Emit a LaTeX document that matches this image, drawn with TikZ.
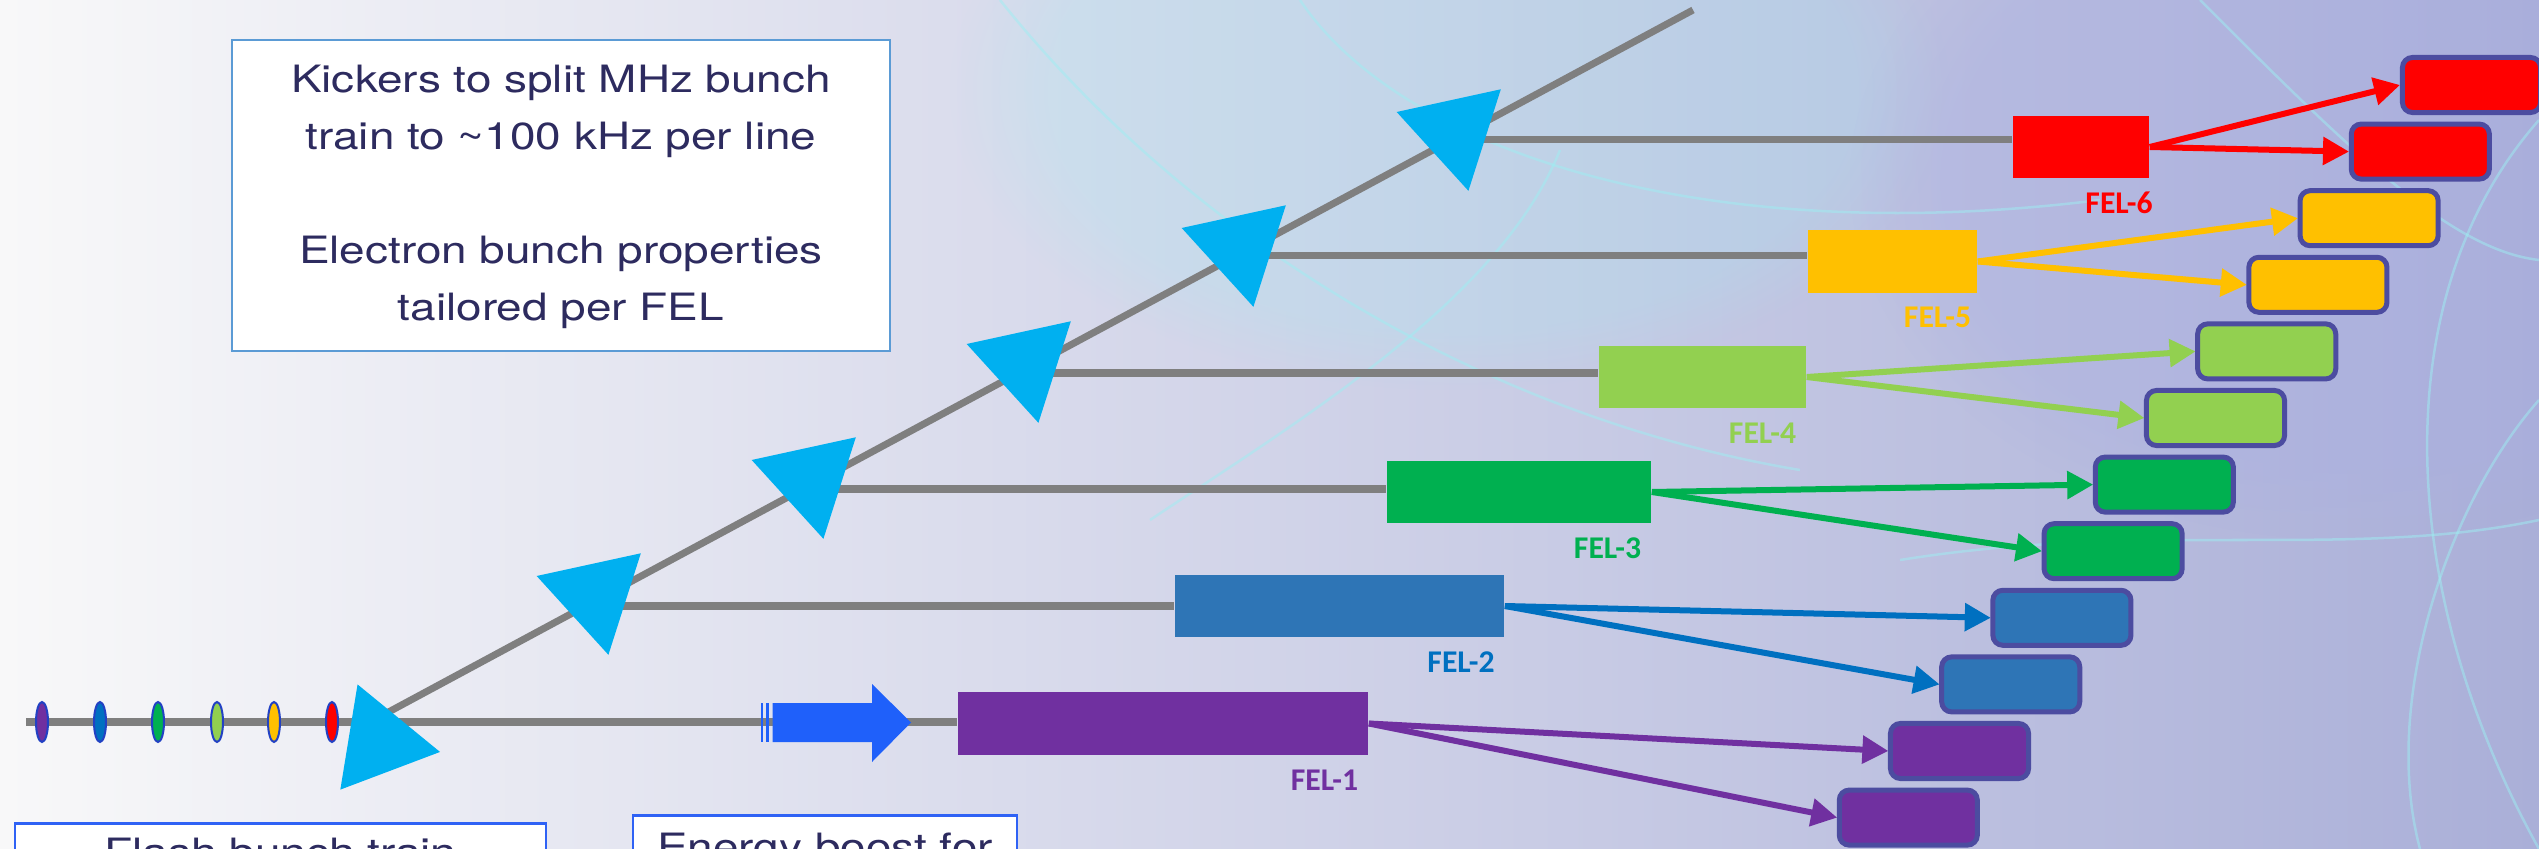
\documentclass[tikz,border=0pt]{standalone}
\usepackage{fontspec}
\usepackage{graphicx}
\setmainfont{TeX Gyre Heros}
\newfontfamily\felfont{Carlito}
\usetikzlibrary{shapes.geometric, arrows.meta, fadings, positioning}

\definecolor{felpurple}{HTML}{7030A0}
\definecolor{felblue}{HTML}{2E75B6}
\definecolor{feldblue}{HTML}{0070C0}
\definecolor{felgreen}{HTML}{00B050}
\definecolor{fellime}{HTML}{92D050}
\definecolor{felyellow}{HTML}{FFC000}
\definecolor{felred}{HTML}{FF0000}
\definecolor{beamgray}{HTML}{7F7F7F}
\definecolor{kickblue}{HTML}{00B0F0}
\definecolor{bunchedge}{HTML}{2241C4}
\definecolor{stationedge}{HTML}{4C4CA0}
\definecolor{boostblue}{HTML}{1F60FA}
\definecolor{textnavy}{HTML}{2D2B5F}
\definecolor{noteedge}{HTML}{5B9BD5}
\definecolor{noteedgeb}{HTML}{2F62F5}
\definecolor{bgleft}{HTML}{F8F8F9}
\definecolor{bgmid}{HTML}{DADADE}
\definecolor{bgright}{HTML}{AAAFD8}
\definecolor{meshcyan}{HTML}{9EEEF2}
\definecolor{bglav}{HTML}{A9AEE4}

\begin{document}
\begin{tikzpicture}[x=0.01cm, y=-0.01cm,
  beamline/.style = {draw=beamgray, line width=0.07cm},
  kicker/.style = {regular polygon, regular polygon sides=3, fill=kickblue,
    minimum size=1.23cm, inner sep=0pt},
  bunch/.style = {ellipse, draw=bunchedge, line width=0.02cm,
    minimum width=0.12cm, minimum height=0.40cm, inner sep=0pt},
  fel/.style = {rectangle, inner sep=0pt, minimum height=0.62cm},
  fellabel/.style = {font=\felfont\bfseries\fontsize{9}{10}\selectfont, inner sep=0pt},
  station/.style = {rectangle, rounded corners=0.1cm, draw=stationedge,
    line width=0.05cm, minimum width=1.38cm, minimum height=0.55cm, inner sep=0pt},
  xray/.style = {line width=0.06cm, -{Triangle[length=0.26cm, width=0.27cm]}},
  note/.style = {rectangle, fill=white, draw=noteedge, line width=0.025cm,
    text=textnavy, inner sep=0pt, font=\fontsize{10.7}{16.2}\selectfont},
  wave/.style = {draw=meshcyan, line width=0.025cm, opacity=0.5}]

  \clip (0,0) rectangle (2539,849);

  % background
  \shade[left color=bgleft, middle color=bgmid, right color=bgright] (0,0) rectangle (2539,849);
  \fill[meshcyan, opacity=0.2, path fading=circle with fuzzy edge 20 percent] (1450,90) ellipse [x radius=5cm, y radius=3cm];
  \fill[bglav, opacity=0.3, path fading=circle with fuzzy edge 20 percent] (2350,180) ellipse [x radius=5cm, y radius=3.6cm];
  \draw[wave] (1000,0) .. controls (1200,250) and (1500,420) .. (1800,470);
  \draw[wave] (1150,520) .. controls (1300,420) and (1500,300) .. (1560,150);
  \draw[wave] (1300,0) .. controls (1400,150) and (1700,250) .. (2100,200);
  \draw[wave] (2200,0) .. controls (2350,150) and (2450,250) .. (2539,260);
  \draw[wave] (2539,120) .. controls (2380,300) and (2400,600) .. (2539,849);
  \draw[wave] (2539,400) .. controls (2450,500) and (2380,700) .. (2420,849);
  \draw[wave] (1900,560) .. controls (2150,520) and (2350,560) .. (2539,520);

  % beam lines
  \coordinate (src) at (26,722);
  \coordinate (split) at (370,722);
  \coordinate (dtop) at (1693,10);
  \coordinate (b2) at (585.5,606);
  \coordinate (b3) at (803,489);
  \coordinate (b4) at (1018.5,373);
  \coordinate (b5) at (1236,256);
  \coordinate (b6) at (1451.5,140);

  \node[fel, fill=felpurple, minimum width=4.10cm, minimum height=0.63cm] (fel1) at (1163,723.5) {};
  \node[fel, fill=felblue, minimum width=3.29cm] (fel2) at (1339.5,606) {};
  \node[fel, fill=felgreen, minimum width=2.64cm] (fel3) at (1519,492) {};
  \node[fel, fill=fellime, minimum width=2.07cm] (fel4) at (1702.5,377) {};
  \node[fel, fill=felyellow, minimum width=1.69cm, minimum height=0.63cm] (fel5) at (1892.5,261.5) {};
  \node[fel, fill=felred, minimum width=1.36cm] (fel6) at (2081,147) {};

  \draw[beamline] (src) -- (src -| fel1.west);
  \draw[beamline] (split) -- (dtop);
  \draw[beamline] (b2) -- (b2 -| fel2.west);
  \draw[beamline] (b3) -- (b3 -| fel3.west);
  \draw[beamline] (b4) -- (b4 -| fel4.west);
  \draw[beamline] (b5) -- (b5 -| fel5.west);
  \draw[beamline] (b6) -- (b6 -| fel6.west);

  % kickers
  \node[kicker, rotate=20.7] (k1) at (379.3,742) {};
  \node[kicker, rotate=72.3] (k2) at (595.3,594.7) {};
  \node[kicker, rotate=72.3] (k3) at (810.3,478.7) {};
  \node[kicker, rotate=72.3] (k4) at (1025.3,362.7) {};
  \node[kicker, rotate=72.3] (k5) at (1240.3,246.7) {};
  \node[kicker, rotate=72.3] (k6) at (1455.3,130.7) {};

  % bunch train
  \node[bunch, fill=felpurple] (e1) at (42,722) {};
  \node[bunch, fill=feldblue] (e2) at (100,722) {};
  \node[bunch, fill=felgreen] (e3) at (158,722) {};
  \node[bunch, fill=fellime] (e4) at (217,722) {};
  \node[bunch, fill=felyellow] (e5) at (274,722) {};
  \node[bunch, fill=felred] (e6) at (332,722) {};

  % energy boost
  \fill[boostblue] (760.5,703) rectangle (763,742);
  \fill[boostblue] (765.5,703) rectangle (769,742);
  \fill[boostblue] (772.5,703) -- (872,703) -- (872,684) -- (911,722.5)
    -- (872,762) -- (872,742) -- (772.5,742) -- cycle;

  % photon beams
  \draw[xray, felred] (fel6.east) -- (2400,85);
  \draw[xray, felred] (fel6.east) -- (2349,151.6);
  \draw[xray, felyellow] (fel5.east) -- (2298,218.2);
  \draw[xray, felyellow] (fel5.east) -- (2246.8,284.8);
  \draw[xray, fellime] (fel4.east) -- (2195.6,351.4);
  \draw[xray, fellime] (fel4.east) -- (2144.4,418);
  \draw[xray, felgreen] (fel3.east) -- (2093.2,484.6);
  \draw[xray, felgreen] (fel3.east) -- (2042,551.2);
  \draw[xray, feldblue] (fel2.east) -- (1990.8,617.8);
  \draw[xray, feldblue] (fel2.east) -- (1939.6,684.4);
  \draw[xray, felpurple] (fel1.east) -- (1888.4,751);
  \draw[xray, felpurple] (fel1.east) -- (1837.2,817.6);

  % end stations
  \node[station, fill=felred] (es6a) at (2471.5,85) {};
  \node[station, fill=felred] (es6b) at (2420.3,151.6) {};
  \node[station, fill=felyellow] (es5a) at (2369.1,218.2) {};
  \node[station, fill=felyellow] (es5b) at (2317.9,284.8) {};
  \node[station, fill=fellime] (es4a) at (2266.7,351.4) {};
  \node[station, fill=fellime] (es4b) at (2215.5,418) {};
  \node[station, fill=felgreen] (es3a) at (2164.3,484.6) {};
  \node[station, fill=felgreen] (es3b) at (2113.1,551.2) {};
  \node[station, fill=felblue] (es2a) at (2061.9,617.8) {};
  \node[station, fill=felblue] (es2b) at (2010.7,684.4) {};
  \node[station, fill=felpurple] (es1a) at (1959.5,751) {};
  \node[station, fill=felpurple] (es1b) at (1908.3,817.6) {};

  % labels
  \node[fellabel, text=felpurple] (lab1) at (1324.5,780) {FEL-1};
  \node[fellabel, text=feldblue] (lab2) at (1461,662) {FEL-2};
  \node[fellabel, text=felgreen] (lab3) at (1607.5,548.5) {FEL-3};
  \node[fellabel, text=fellime] (lab4) at (1762.5,433.5) {FEL-4};
  \node[fellabel, text=felyellow] (lab5) at (1937.5,317) {FEL-5};
  \node[fellabel, text=felred] (lab6) at (2119,203) {FEL-6};

  % notes
  \node[note, minimum width=6.58cm, minimum height=3.11cm] (kicknote) at (561,195.5)
    {\raisebox{0.05cm}{\scalebox{1.22}[1]{\begin{tabular}{@{}c@{}}
      Kickers to split MHz bunch\\
      train to \textasciitilde100 kHz per line\\
      \\
      Electron bunch properties\\
      tailored per FEL
    \end{tabular}}}};
  \node[note, draw=noteedgeb, anchor=north, minimum width=5.31cm, inner ysep=0.15cm,
    text height=0.27cm] (bunchnote) at (280.5,822) {\scalebox{1.22}[1]{Flash bunch train}};
  \node[note, draw=noteedgeb, anchor=north, minimum width=3.84cm, inner ysep=0.18cm,
    text height=0.27cm] (boostnote) at (825,814) {\scalebox{1.22}[1]{Energy boost for}};
\end{tikzpicture}
\end{document}
